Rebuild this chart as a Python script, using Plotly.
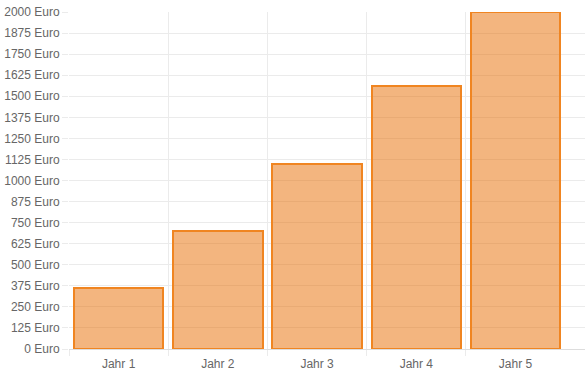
import plotly.graph_objects as go

categories = ["Jahr 1", "Jahr 2", "Jahr 3", "Jahr 4", "Jahr 5"]
values = [360, 700, 1100, 1560, 2000]
y_max = 2000
y_step = 125

idx = list(range(len(categories)))
boundaries = [i - 0.5 for i in idx]  # left boundary of each category (last right edge not drawn)

grid = "#ebebeb"
font = dict(family="Liberation Sans, Arial, Helvetica, sans-serif", size=12, color="#666666")

fig = go.Figure()
fig.add_trace(go.Bar(
    x=idx, y=values, width=0.9,
    marker=dict(color="rgba(232,113,10,0.52)", line=dict(color="#F08521", width=2)),
    hoverinfo="skip", showlegend=False,
))
# invisible trace to carry the label axis
fig.add_trace(go.Scatter(x=idx, y=[0]*len(idx), xaxis="x2", mode="markers",
                         marker=dict(opacity=0), hoverinfo="skip", showlegend=False))

xr = [-0.5, len(categories) - 0.5 + 0.2]
fig.update_layout(
    width=585, height=372,
    margin=dict(l=69, r=0, t=12, b=23),
    paper_bgcolor="white", plot_bgcolor="white",
    font=font,
    bargap=0,
    xaxis=dict(range=xr, tickmode="array", tickvals=boundaries, showticklabels=False,
               showgrid=True, gridcolor=grid, gridwidth=1, zeroline=False,
               ticks="outside", ticklen=6, tickcolor=grid,
               showline=True, linecolor="#dddddd", linewidth=1),
    xaxis2=dict(range=xr, overlaying="x", side="bottom", tickmode="array",
                tickvals=idx, ticktext=categories, showgrid=False, zeroline=False,
                ticks="outside", ticklen=4, tickcolor="rgba(0,0,0,0)", showline=False),
    yaxis=dict(range=[0, y_max], tickmode="linear", tick0=0, dtick=y_step,
               ticksuffix=" Euro", showgrid=True, gridcolor=grid, gridwidth=1,
               zeroline=False, ticks="outside", ticklen=6, tickcolor=grid,
               showline=False),
)
fig.write_html("out.html")
